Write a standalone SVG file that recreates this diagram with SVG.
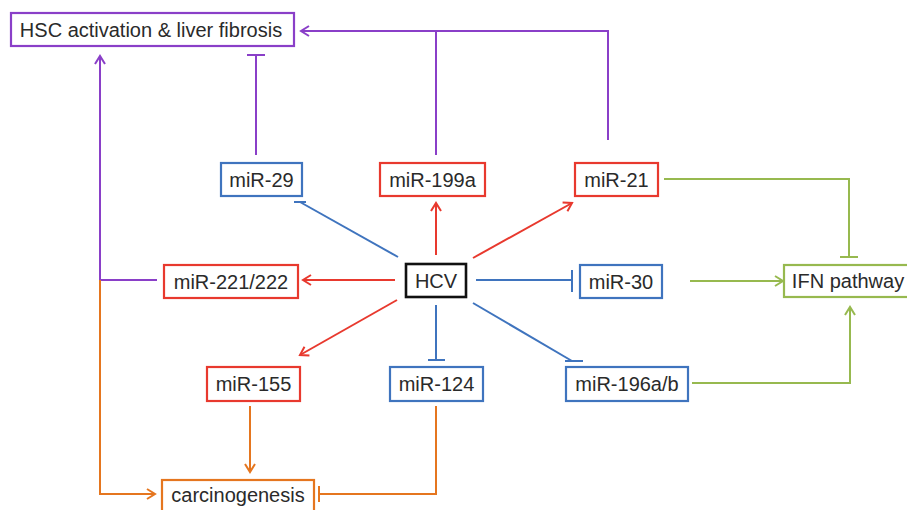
<svg xmlns="http://www.w3.org/2000/svg" width="907" height="510" viewBox="0 0 907 510">
<defs>
<style>
text{font-family:"Liberation Sans",Arial,sans-serif;font-size:20px;fill:#2a2a2a;text-anchor:middle}
rect{fill:#fff;stroke-width:2.2}
.r{stroke:#E8392E}.b{stroke:#3F74BE}.p{stroke:#8A3FC8}.g{stroke:#97B94F}.o{stroke:#E5761F}.k{stroke:#111;stroke-width:2.6}
line,polyline,path{fill:none;stroke-width:2}
</style>
<marker id="ar" viewBox="-10 -6 12 12" refX="0" refY="0" markerWidth="12" markerHeight="12" markerUnits="userSpaceOnUse" orient="auto"><path d="M-8,-5 L0,0 L-8,5" stroke="#E8392E" stroke-width="2" fill="none"/></marker>
<marker id="ap" viewBox="-10 -6 12 12" refX="0" refY="0" markerWidth="12" markerHeight="12" markerUnits="userSpaceOnUse" orient="auto"><path d="M-8,-5 L0,0 L-8,5" stroke="#8A3FC8" stroke-width="2" fill="none"/></marker>
<marker id="ag" viewBox="-10 -6 12 12" refX="0" refY="0" markerWidth="12" markerHeight="12" markerUnits="userSpaceOnUse" orient="auto"><path d="M-8,-5 L0,0 L-8,5" stroke="#97B94F" stroke-width="2" fill="none"/></marker>
<marker id="ao" viewBox="-10 -6 12 12" refX="0" refY="0" markerWidth="12" markerHeight="12" markerUnits="userSpaceOnUse" orient="auto"><path d="M-8,-5 L0,0 L-8,5" stroke="#E5761F" stroke-width="2" fill="none"/></marker>
</defs>

<g id="connectors">
<polyline class="p" points="608,140 608,31 301,31" marker-end="url(#ap)"/>
<line class="p" x1="436" y1="31" x2="436" y2="155"/>
<line class="p" x1="256" y1="155" x2="256" y2="56"/>
<line class="p" x1="247" y1="55" x2="265" y2="55"/>
<polyline class="p" points="157,280 100,280 100,56" marker-end="url(#ap)"/>
<polyline class="o" points="100,280 100,494 155,494" marker-end="url(#ao)"/>
<line class="o" x1="250" y1="406" x2="250" y2="472" marker-end="url(#ao)"/>
<polyline class="o" points="436,406 436,494 319,494"/>
<line class="o" x1="319" y1="486" x2="319" y2="502"/>
<polyline class="g" points="664,179 849,179 849,257"/>
<line class="g" x1="840" y1="257" x2="858" y2="257"/>
<line class="g" x1="690" y1="281" x2="783" y2="281" marker-end="url(#ag)"/>
<polyline class="g" points="692,383 850,383 850,307" marker-end="url(#ag)"/>
<line class="r" x1="395" y1="280" x2="303" y2="280" stroke-width="2.5" marker-end="url(#ar)"/>
<line class="r" x1="436" y1="255" x2="436" y2="203" stroke-width="1.5" marker-end="url(#ar)"/>
<line class="r" x1="473" y1="258" x2="572" y2="203" stroke-width="2.5" marker-end="url(#ar)"/>
<line class="r" x1="397" y1="300" x2="300" y2="355" stroke-width="2.5" marker-end="url(#ar)"/>
<line class="b" x1="398" y1="257" x2="300" y2="202" stroke-width="1.5"/>
<line class="b" x1="294" y1="202" x2="306" y2="202"/>
<line class="b" x1="476" y1="280" x2="572" y2="280" stroke-width="2.5"/>
<line class="b" x1="572" y1="270" x2="572" y2="292" stroke-width="2"/>
<line class="b" x1="436" y1="305" x2="436" y2="360" stroke-width="2.5"/>
<line class="b" x1="428" y1="360" x2="445" y2="360"/>
<line class="b" x1="473" y1="303" x2="572" y2="361" stroke-width="2.5"/>
<line class="b" x1="565" y1="361" x2="583" y2="361"/>
</g>

<g id="hsc"><rect class="p" x="11" y="13" width="283" height="33"/><text x="151" y="37">HSC activation &amp; liver fibrosis</text></g>
<g id="mir29"><rect class="b" x="221" y="163" width="81" height="33"/><text x="261.5" y="187">miR-29</text></g>
<g id="mir199a"><rect class="r" x="380" y="163" width="105" height="33"/><text x="432.5" y="187">miR-199a</text></g>
<g id="mir21"><rect class="r" x="575" y="163" width="83" height="33"/><text x="616.5" y="187">miR-21</text></g>
<g id="mir221"><rect class="r" x="164" y="265" width="134" height="33"/><text x="231" y="289">miR-221/222</text></g>
<g id="hcv"><rect class="k" x="406" y="264" width="60" height="33"/><text x="436" y="288">HCV</text></g>
<g id="mir30"><rect class="b" x="580" y="265" width="82" height="33"/><text x="621" y="289">miR-30</text></g>
<g id="ifn"><rect class="g" x="784" y="265" width="130" height="32"/><text x="848" y="288">IFN pathway</text></g>
<g id="mir155"><rect class="r" x="207" y="367" width="93" height="34"/><text x="253.5" y="391">miR-155</text></g>
<g id="mir124"><rect class="b" x="390" y="367" width="93" height="34"/><text x="436.5" y="391">miR-124</text></g>
<g id="mir196"><rect class="b" x="566" y="367" width="122" height="34"/><text x="627" y="391">miR-196a/b</text></g>
<g id="carcinogenesis"><rect class="o" x="162" y="480" width="152" height="36"/><text x="238" y="502">carcinogenesis</text></g>
</svg>
